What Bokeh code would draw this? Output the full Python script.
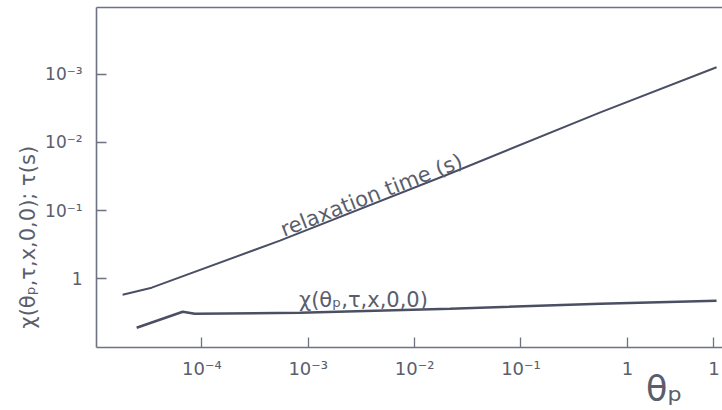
from bokeh.plotting import figure
from bokeh.models import LogAxis, Label, FixedTicker, Range1d, Title
from bokeh.embed import file_html
from bokeh.resources import INLINE

# ---- data ----
theta_relax = [1.80e-5, 3.38e-5, 5.42e-4, 0.0216, 0.557, 6.89]
tau_relax = [0.582, 0.738, 3.62, 35.0, 276.0, 1268.0]

theta_chi = [2.44e-5, 6.62e-5, 8.59e-5, 8.36e-4, 0.0216, 0.557, 6.89]
chi_vals = [0.190, 0.327, 0.305, 0.316, 0.362, 0.429, 0.474]

# the last label is the cut-off first digit of the next decade at the right edge
x_ticks = [0.0001, 0.001, 0.01, 0.1, 1, 6.5]
x_tick_labels = ["10⁻⁴", "10⁻³", "10⁻²", "10⁻¹", "1", "1"]
y_ticks = [1, 10, 100, 1000]
y_tick_labels = ["1", "10⁻¹", "10⁻²", "10⁻³"]

FONT = "DejaVu Sans"
LINE = "#4b4f63"
AXC = "#6e7282"
TXT = "#5a5e6c"

p = figure(width=722, height=410, x_axis_type="log", y_axis_type="log",
           x_range=Range1d(10 ** -4.99, 10 ** 0.894),
           y_range=Range1d(10 ** -1.01, 10 ** 3.98),
           output_backend="svg", toolbar_location=None,
           min_border_left=96, min_border_right=0,
           min_border_top=7, min_border_bottom=63)
p.outline_line_color = None
p.xgrid.visible = False
p.ygrid.visible = False
p.background_fill_color = "white"
p.border_fill_color = "white"

for ax in (p.xaxis[0], p.yaxis[0]):
    ax.axis_line_color = AXC
    ax.axis_line_width = 1.6
    ax.major_tick_in = 10
    ax.major_tick_out = 0
    ax.major_tick_line_color = AXC
    ax.major_tick_line_width = 1.3
    ax.minor_tick_line_color = None
    ax.major_label_text_font = FONT
    ax.major_label_text_color = TXT

p.xaxis.ticker = FixedTicker(ticks=x_ticks, minor_ticks=[])
p.xaxis.major_label_overrides = dict(zip(x_ticks, x_tick_labels))
p.xaxis.major_label_standoff = 10
p.xaxis.major_label_text_font_size = "18px"

p.yaxis.ticker = FixedTicker(ticks=y_ticks, minor_ticks=[])
p.yaxis.major_label_overrides = dict(zip(y_ticks, y_tick_labels))
p.yaxis.major_label_standoff = 14
p.yaxis.major_label_text_font_size = "17px"

# axis titles as Title objects (allow offsets along the side)
p.add_layout(Title(text="θₚ", align="right", offset=40, standoff=-30,
                   text_font=FONT, text_font_size="35px",
                   text_font_style="normal", text_color=TXT), "below")
p.add_layout(Title(text="χ(θₚ,τ,x,0,0); τ(s)", align="left", offset=19,
                   standoff=6,
                   text_font=FONT, text_font_size="21px",
                   text_font_style="normal", text_color=TXT), "left")

# top border as a plain axis line
top = LogAxis(ticker=FixedTicker(ticks=[], minor_ticks=[]))
top.axis_line_color = AXC
top.axis_line_width = 1.6
top.major_tick_line_color = None
top.minor_tick_line_color = None
top.major_label_text_font_size = "0px"
top.major_label_standoff = 0
p.add_layout(top, "above")

p.line(theta_relax, tau_relax, line_color=LINE, line_width=2.0)
p.line(theta_chi, chi_vals, line_color=LINE, line_width=2.6)

# curve annotations
p.add_layout(Label(x=5.6e-4, y=3.4, y_offset=12, text="relaxation time (s)",
                   angle=21.3, angle_units="deg",
                   text_font=FONT, text_font_size="21px", text_color=TXT,
                   text_baseline="alphabetic", text_align="left"))
p.add_layout(Label(x=8.2e-4, y=0.40, y_offset=6, text="χ(θₚ,τ,x,0,0)",
                   text_font=FONT, text_font_size="21px", text_color=TXT,
                   text_baseline="alphabetic", text_align="left"))

open("out.html", "w").write(file_html(p, INLINE))
